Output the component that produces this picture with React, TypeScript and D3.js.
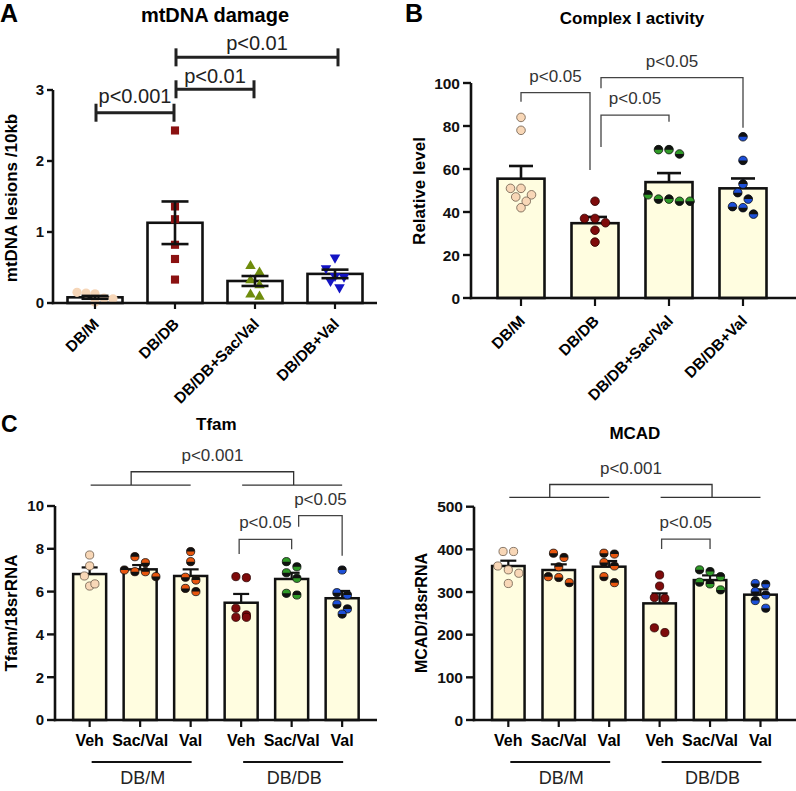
import React from "react";
import * as d3 from "d3";

const FONT = "'Liberation Sans', Arial, Helvetica, sans-serif";

// ---------- A: mtDNA damage ----------
const mtGroups = ["DB/M", "DB/DB", "DB/DB+Sac/Val", "DB/DB+Val"];
const mtMean = [0.08, 1.13, 0.31, 0.41];
const mtSem = [0.02, 0.3, 0.07, 0.06];
const mtPts = [
  [0.15, 0.14, 0.13, 0.07, 0.06, 0.01],
  [2.43, 1.36, 1.18, 0.82, 0.62, 0.33],
  [0.52, 0.43, 0.32, 0.25, 0.12, 0.09],
  [0.64, 0.49, 0.38, 0.37, 0.31, 0.22],
];
const mtTicks = [0, 1, 2, 3];
const mtSig = [
  { a: 0, b: 1, y: 2.68, dy: -10, label: "p<0.001" },
  { a: 1, b: 2, y: 3.01, dy: -6, label: "p<0.01" },
  { a: 1, b: 3, y: 3.46, dy: -7, label: "p<0.01" },
];

// ---------- B: Complex I activity ----------
const ciGroups = ["DB/M", "DB/DB", "DB/DB+Sac/Val", "DB/DB+Val"];
const ciMean = [55.5, 34.8, 53.9, 51.0];
const ciSem = [5.9, 2.9, 4.2, 4.6];
const ciPts = [
  [84, 78, 51, 47, 51, 48, 42, 45],
  [45, 37, 37, 35, 31.5, 26],
  [69, 67, 69, 45, 48, 46, 46, 45],
  [75, 64, 53, 49, 39, 42.5, 46, 42],
];
const ciTicks = [0, 20, 40, 60, 80, 100];
const ciSig = [
  { a: 0, b: 1, offA: 0, offB: -5, top: 95.5, endA: 91.3, endB: 59.5, label: "p<0.05" },
  { a: 1, b: 2, offA: 6, offB: 0, top: 85.1, endA: 70.2, endB: 82, label: "p<0.05" },
  { a: 1, b: 3, offA: 6, offB: 0, top: 102.5, endA: 97.6, endB: 79.2, label: "p<0.05" },
];

// ---------- C: Tfam / MCAD ----------
const cTreat = ["Veh", "Sac/Val", "Val", "Veh", "Sac/Val", "Val"];
const cStrain = ["DB/M", "DB/DB"];

const tfamMean = [6.82, 7.04, 6.73, 5.48, 6.59, 5.69];
const tfamSem = [0.31, 0.2, 0.31, 0.41, 0.29, 0.34];
const tfamPts = [
  [7.71, 7.2, 6.73, 6.26, 6.36],
  [7.63, 7.35, 7.01, 6.93, 6.93, 6.7],
  [7.87, 7.4, 6.54, 6.67, 6.0, 6.15],
  [6.65, 6.7, 4.8, 4.91, 5.22, 4.8],
  [7.16, 7.4, 6.62, 6.88, 5.84, 5.92],
  [7.01, 5.95, 5.84, 5.41, 5.19, 4.95],
];
const tfamTicks = [0, 2, 4, 6, 8, 10];
const tfamSig = [
  { a: 3, b: 4, offA: -2, offB: 0, top: 8.44, endA: 7.76, endB: 7.98, label: "p<0.05" },
  { a: 4, b: 5, offA: 7, offB: 0, top: 9.55, endA: 9.03, endB: 7.68, label: "p<0.05" },
];
const tfamAll = { top: 11.6, leg: 10.98, label: "p<0.001" };

const mcadMean = [361, 351.6, 359.4, 273.4, 328, 293.8];
const mcadSem = [12.4, 13.3, 13.3, 23.5, 11, 12.5];
const mcadPts = [
  [395, 395, 361, 344, 352, 320],
  [381, 391, 359, 322, 336, 334],
  [389, 391, 361, 369, 322, 336],
  [340, 314, 285, 287, 205, 216],
  [336, 352, 348, 323, 319, 305],
  [318, 320, 293, 301, 280, 262],
];
const mcadTicks = [0, 100, 200, 300, 400, 500];
const mcadSig = [
  { a: 3, b: 4, offA: 2, offB: 0, top: 424, endA: 401, endB: 401, label: "p<0.05" },
];
const mcadAll = { top: 552, leg: 522, label: "p<0.001" };

// ---------- styles ----------
const PEACH = "#f8d7b7";
const DARKRED = "#7e0b0b";
const ORANGE = "#e8560e";
const GREEN = "#2f9a27";
const BLUE = "#1c4fd8";
const CREAM = "#fffde0";

type Marker = { color: string; shape: string; half?: boolean; stroke?: string };

const markersA: Marker[] = [
  { color: "#f6d6b8", shape: "circle" },
  { color: "#8b1111", shape: "square" },
  { color: "#6f8c0c", shape: "triangle" },
  { color: "#1414c4", shape: "triangleDown" },
];
const markersB: Marker[] = [
  { color: PEACH, shape: "circle", stroke: "#6b5a4a" },
  { color: DARKRED, shape: "circle", stroke: "#2a0000" },
  { color: GREEN, shape: "circle", half: true },
  { color: BLUE, shape: "circle", half: true },
];
const markersC: Marker[] = [
  { color: PEACH, shape: "circle", stroke: "#6b5a4a" },
  { color: ORANGE, shape: "circle", half: true },
  { color: ORANGE, shape: "circle", half: true },
  { color: DARKRED, shape: "circle", stroke: "#2a0000" },
  { color: GREEN, shape: "circle", half: true },
  { color: BLUE, shape: "circle", half: true },
];

// rows of overlapping points spread symmetrically around the column centre
function swarm(vals: number[], y: (v: number) => number, gap: number, step: number) {
  const order = vals.map((v, i) => ({ i, py: y(v) })).sort((p, q) => p.py - q.py);
  const rows: { i: number; py: number }[][] = [];
  for (const p of order) {
    const last = rows[rows.length - 1];
    if (last && p.py - last[0].py < gap) last.push(p);
    else rows.push([p]);
  }
  const dx = new Array(vals.length).fill(0);
  rows.forEach((row) => row.forEach((p, k) => (dx[p.i] = (k - (row.length - 1) / 2) * step)));
  return vals.map((v, i) => ({ dx: dx[i], py: y(v) }));
}

function Dot({ cx, cy, r, m, i }: { cx: number; cy: number; r: number; m: Marker; i: number }) {
  if (m.shape === "circle") {
    const top = i % 2 === 0;
    return (
      <g>
        <circle cx={cx} cy={cy} r={r} fill={m.color} stroke={m.stroke ?? (m.half ? "#111" : "none")} strokeWidth={0.8} />
        {m.half && (
          <path
            d={`M${cx - r},${cy}A${r},${r} 0 0 ${top ? 1 : 0} ${cx + r},${cy}Z`}
            fill="#111"
          />
        )}
      </g>
    );
  }
  const type = m.shape === "square" ? d3.symbolSquare : d3.symbolTriangle;
  const size = m.shape === "square" ? 66 : 48;
  const d = d3.symbol().type(type).size(size)() as string;
  const rot = m.shape === "triangleDown" ? " rotate(180)" : "";
  return <path d={d} transform={`translate(${cx},${cy})${rot}`} fill={m.color} />;
}

function YAxis({ x, y, ticks, top, len, fs }: any) {
  return (
    <g>
      <line x1={x} x2={x} y1={y(0) + 1.2} y2={y(top)} stroke="#111" strokeWidth={2.6} />
      {ticks.map((t: number) => (
        <g key={t}>
          <line x1={x - len} x2={x} y1={y(t)} y2={y(t)} stroke="#111" strokeWidth={2.4} />
          <text
            x={x - len - 3}
            y={y(t)}
            dy="0.36em"
            textAnchor="end"
            fontSize={fs}
            fontWeight="bold"
            fill="#111"
          >
            {t}
          </text>
        </g>
      ))}
    </g>
  );
}

function XAxis({ x0, x1, y0, centers, len }: any) {
  return (
    <g>
      <line x1={x0 - 1.2} x2={x1} y1={y0} y2={y0} stroke="#111" strokeWidth={2.6} />
      {centers.map((c: number, i: number) => (
        <line key={i} x1={c} x2={c} y1={y0} y2={y0 + len} stroke="#111" strokeWidth={2.2} />
      ))}
    </g>
  );
}

function PanelA() {
  const y = d3.scaleLinear().domain([0, 3]).range([303, 90]);
  const x = d3.scalePoint<string>().domain(mtGroups).range([55, 375]).padding(0.5);
  const cx = (i: number) => x(mtGroups[i]) as number;
  const bw = 55;
  return (
    <g>
      <text x={0} y={22} fontSize={25} fontWeight="bold">A</text>
      <text x={215} y={21.5} fontSize={20} fontWeight="bold" textAnchor="middle">mtDNA damage</text>
      <text transform="translate(17,198) rotate(-90)" fontSize={17} fontWeight="bold" textAnchor="middle">
        mtDNA lesions /10kb
      </text>
      {mtGroups.map((g, i) => (
        <rect
          key={g}
          x={cx(i) - bw / 2}
          y={y(mtMean[i])}
          width={bw}
          height={y(0) - y(mtMean[i])}
          fill="#fff"
          stroke="#111"
          strokeWidth={2.6}
        />
      ))}
      {mtPts.map((vals, gi) =>
        swarm(vals, y, 9, 9).map((p, i) => (
          <Dot key={`${gi}-${i}`} cx={cx(gi) + p.dx} cy={p.py} r={4.6} m={markersA[gi]} i={i} />
        ))
      )}
      {mtGroups.map((g, i) => {
        const hi = y(mtMean[i] + mtSem[i]);
        const lo = y(mtMean[i] - mtSem[i]);
        return (
          <g key={g} stroke="#111" strokeWidth={2.6}>
            <line x1={cx(i)} x2={cx(i)} y1={hi} y2={lo} />
            <line x1={cx(i) - 13.5} x2={cx(i) + 13.5} y1={hi} y2={hi} />
            <line x1={cx(i) - 13.5} x2={cx(i) + 13.5} y1={lo} y2={lo} />
          </g>
        );
      })}
      <YAxis x={53} y={y} ticks={mtTicks} top={3} len={6} fs={15} />
      <XAxis x0={53} x1={377} y0={y(0)} centers={mtGroups.map((_, i) => cx(i))} len={6} />
      {mtGroups.map((g, i) => (
        <text
          key={g}
          transform={`translate(${cx(i) + 5},${y(0) + 22}) rotate(-45)`}
          textAnchor="end"
          fontSize={15.5}
          fontWeight="bold"
        >
          {g}
        </text>
      ))}
      {mtSig.map((s, k) => {
        const x1 = cx(s.a) + 1;
        const x2 = cx(s.b) + (s.b === 3 ? 3 : -1);
        const yy = y(s.y);
        return (
          <g key={k}>
            <g stroke="#222" strokeWidth={3}>
              <line x1={x1} x2={x2} y1={yy} y2={yy} />
              <line x1={x1} x2={x1} y1={yy - 9} y2={yy + 9} />
              <line x1={x2} x2={x2} y1={yy - 9} y2={yy + 9} />
            </g>
            <text x={(x1 + x2) / 2} y={yy + s.dy} fontSize={20} textAnchor="middle" fill="#222">
              {s.label}
            </text>
          </g>
        );
      })}
    </g>
  );
}

function Brackets({ sigs, cx, y }: any) {
  return (
    <g>
      {sigs.map((s: any, k: number) => {
        const x1 = cx(s.a) + s.offA;
        const x2 = cx(s.b) + s.offB;
        return (
          <g key={k}>
            <path
              d={`M${x1},${y(s.endA)}V${y(s.top)}H${x2}V${y(s.endB)}`}
              fill="none"
              stroke="#444"
              strokeWidth={1.3}
            />
            <text x={(x1 + x2) / 2} y={y(s.top) - 11} fontSize={17} textAnchor="middle" fill="#333">
              {s.label}
            </text>
          </g>
        );
      })}
    </g>
  );
}

function PanelB() {
  const y = d3.scaleLinear().domain([0, 100]).range([298, 83]);
  const x = d3.scalePoint<string>().domain(ciGroups).range([484, 780]).padding(0.5);
  const cx = (i: number) => x(ciGroups[i]) as number;
  const bw = 47;
  return (
    <g>
      <text x={405} y={22} fontSize={25} fontWeight="bold">B</text>
      <text x={632} y={24} fontSize={17} fontWeight="bold" textAnchor="middle">Complex I activity</text>
      <text transform="translate(425,191) rotate(-90)" fontSize={17} fontWeight="bold" textAnchor="middle">
        Relative level
      </text>
      {ciGroups.map((g, i) => (
        <rect
          key={g}
          x={cx(i) - bw / 2}
          y={y(ciMean[i])}
          width={bw}
          height={y(0) - y(ciMean[i])}
          fill={CREAM}
          stroke="#111"
          strokeWidth={2.6}
        />
      ))}
      {ciGroups.map((g, i) => {
        const hi = y(ciMean[i] + ciSem[i]);
        return (
          <g key={g} stroke="#111" strokeWidth={2.6}>
            <line x1={cx(i)} x2={cx(i)} y1={hi} y2={y(ciMean[i])} />
            <line x1={cx(i) - 12} x2={cx(i) + 12} y1={hi} y2={hi} />
          </g>
        );
      })}
      {ciPts.map((vals, gi) =>
        swarm(vals, y, 8.5, 10.5).map((p, i) => (
          <Dot key={`${gi}-${i}`} cx={cx(gi) + p.dx} cy={p.py} r={4.3} m={markersB[gi]} i={i} />
        ))
      )}
      <YAxis x={471} y={y} ticks={ciTicks} top={100} len={8} fs={15.5} />
      <XAxis x0={471} x1={796} y0={y(0)} centers={ciGroups.map((_, i) => cx(i))} len={8} />
      {ciGroups.map((g, i) => (
        <text
          key={g}
          transform={`translate(${cx(i) + 5},${y(0) + 24}) rotate(-45)`}
          textAnchor="end"
          fontSize={15.5}
          fontWeight="bold"
        >
          {g}
        </text>
      ))}
      <Brackets sigs={ciSig} cx={cx} y={y} />
    </g>
  );
}

function PanelC({
  left, axisX, xRange, domainMax, yTop, ticks, mean, sem, pts, sigs, all, title, titleY, ylab, ylabX, ylabFs, bw,
}: any) {
  const y = d3.scaleLinear().domain([0, domainMax]).range([720, yTop]);
  const keys = cTreat.map((t, i) => `${t}-${i}`);
  const x = d3.scalePoint<string>().domain(keys).range(xRange).padding(0.5);
  const cx = (i: number) => x(keys[i]) as number;
  const legL = cx(1) - 9;
  const legR = cx(4) + 2;
  return (
    <g>
      <text x={(cx(0) + cx(5)) / 2 + 0.5} y={titleY} fontSize={17} fontWeight="bold" textAnchor="middle">
        {title}
      </text>
      <text transform={`translate(${ylabX},613) rotate(-90)`} fontSize={ylabFs} fontWeight="bold" textAnchor="middle">
        {ylab}
      </text>
      {mean.map((m: number, i: number) => (
        <rect
          key={i}
          x={cx(i) - bw / 2}
          y={y(m)}
          width={bw}
          height={y(0) - y(m)}
          fill={CREAM}
          stroke="#111"
          strokeWidth={2.5}
        />
      ))}
      {mean.map((m: number, i: number) => {
        const hi = y(m + sem[i]);
        return (
          <g key={i} stroke="#111" strokeWidth={2.2}>
            <line x1={cx(i)} x2={cx(i)} y1={hi} y2={y(m)} />
            <line x1={cx(i) - 8} x2={cx(i) + 8} y1={hi} y2={hi} />
          </g>
        );
      })}
      {pts.map((vals: number[], gi: number) =>
        swarm(vals, y, 8, 10.5).map((p, i) => (
          <Dot key={`${gi}-${i}`} cx={cx(gi) + p.dx} cy={p.py} r={4.1} m={markersC[gi]} i={i} />
        ))
      )}
      <YAxis x={axisX} y={y} ticks={ticks} top={domainMax} len={8} fs={left ? 15 : 15.5} />
      <XAxis x0={axisX} x1={left ? 377 : 796} y0={y(0)} centers={keys.map((_, i) => cx(i))} len={7} />
      {cTreat.map((t, i) => (
        <text key={i} x={cx(i)} y={746} fontSize={16} fontWeight="bold" textAnchor="middle">
          {t}
        </text>
      ))}
      {cStrain.map((s, k) => {
        const a = cx(k * 3) + 2;
        const b = cx(k * 3 + 2) + 1;
        return (
          <g key={s}>
            <line x1={a} x2={b} y1={762} y2={762} stroke="#111" strokeWidth={2} />
            <text x={(a + b) / 2 + 1} y={784} fontSize={18} textAnchor="middle" fill="#222">
              {s}
            </text>
          </g>
        );
      })}
      {/* overall strain comparison */}
      <g stroke="#333" strokeWidth={1.3} fill="none">
        <line x1={cx(0) + 1} x2={cx(2)} y1={y(all.leg)} y2={y(all.leg)} />
        <line x1={cx(3) + 1} x2={cx(5)} y1={y(all.leg)} y2={y(all.leg)} />
        <path d={`M${legL},${y(all.leg)}V${y(all.top)}H${legR}V${y(all.leg)}`} />
      </g>
      <text x={(legL + legR) / 2} y={y(all.top) - 10.5} fontSize={17} textAnchor="middle" fill="#333">
        {all.label}
      </text>
      <Brackets sigs={sigs} cx={cx} y={y} />
    </g>
  );
}

export default function App() {
  return (
    <svg
      width={796}
      height={791}
      viewBox="0 0 796 791"
      style={{ position: "absolute", left: 0, top: 0, background: "#fff" }}
      fontFamily={FONT}
    >
      <rect width={796} height={791} fill="#fff" />
      <PanelA />
      <PanelB />
      <text x={1} y={431.5} fontSize={23} fontWeight="bold">C</text>
      <PanelC
        left
        axisX={55}
        xRange={[64.4, 367.4]}
        domainMax={10}
        yTop={506}
        ticks={tfamTicks}
        mean={tfamMean}
        sem={tfamSem}
        pts={tfamPts}
        sigs={tfamSig}
        all={tfamAll}
        title="Tfam"
        titleY={430}
        ylab="Tfam/18srRNA"
        ylabX={16.7}
        ylabFs={17}
        bw={33}
      />
      <PanelC
        left={false}
        axisX={474}
        xRange={[483.1, 785.7]}
        domainMax={500}
        yTop={506.7}
        ticks={mcadTicks}
        mean={mcadMean}
        sem={mcadSem}
        pts={mcadPts}
        sigs={mcadSig}
        all={mcadAll}
        title="MCAD"
        titleY={439}
        ylab="MCAD/18srRNA"
        ylabX={427}
        ylabFs={16}
        bw={32.5}
      />
    </svg>
  );
}
